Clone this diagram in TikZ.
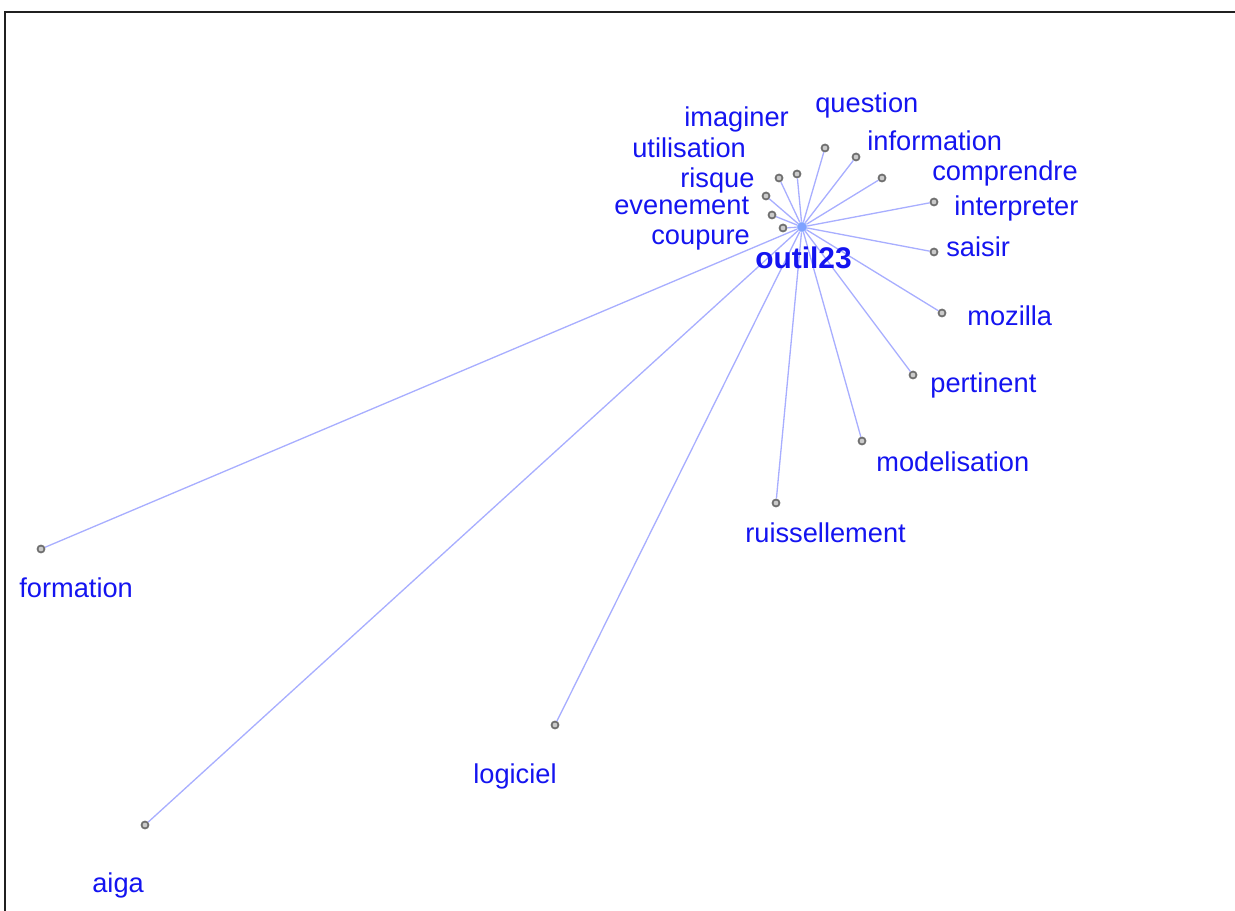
\documentclass[tikz,border=0pt]{standalone}
\usepackage{xcolor}
\usepackage{fontspec}
\setmainfont{Liberation Sans}
\usepackage{tikz}
\definecolor{graphBlue}{HTML}{1414F0}
\definecolor{graphEdge}{HTML}{A8AEFF}
\definecolor{graphHub}{HTML}{7FA2FF}
\definecolor{graphDot}{HTML}{A8A8A8}
\definecolor{graphRim}{HTML}{707070}
\definecolor{graphFrame}{HTML}{202020}
\usetikzlibrary{positioning}

\begin{document}
\begin{tikzpicture}[
  x=0.02cm, y=-0.02cm,
  hub/.style={circle, fill=graphHub, draw=graphHub!70, line width=0.4pt, minimum size=0.2cm, inner sep=0pt},
  leaf/.style={circle, fill=graphDot!60, draw=graphRim, line width=1pt, minimum size=0.14cm, inner sep=0pt},
  link/.style={graphEdge, line width=0.75pt},
  word/.style={anchor=base west, inner sep=0pt, text=graphBlue, font=\fontsize{15.5}{18}\selectfont},
  hubword/.style={anchor=base west, inner sep=0pt, text=graphBlue, font=\fontsize{17}{18}\selectfont\bfseries},
  frame/.style={graphFrame, line width=1.6pt}
]
\useasboundingbox (0,0) rectangle (1235,911);

% Frame
\draw[frame] (5,911) -- (5,12) -- (1235,12);

% Centre
\node[hub] (outil) at (802,227) {};

% Leaves
\node[leaf] (question) at (825,148) {};
\node[leaf] (imaginer) at (797,174) {};
\node[leaf] (information) at (856,157) {};
\node[leaf] (utilisation) at (779,178) {};
\node[leaf] (risque) at (766,196) {};
\node[leaf] (comprendre) at (882,178) {};
\node[leaf] (interpreter) at (934,202) {};
\node[leaf] (evenement) at (772,215) {};
\node[leaf] (coupure) at (783,228) {};
\node[leaf] (saisir) at (934,252) {};
\node[leaf] (mozilla) at (942,313) {};
\node[leaf] (pertinent) at (913,375) {};
\node[leaf] (modelisation) at (862,441) {};
\node[leaf] (ruissellement) at (776,503) {};
\node[leaf] (formation) at (41,549) {};
\node[leaf] (logiciel) at (555,725) {};
\node[leaf] (aiga) at (145,825) {};

% Links
\draw[link] (outil) -- (question);
\draw[link] (outil) -- (imaginer);
\draw[link] (outil) -- (information);
\draw[link] (outil) -- (utilisation);
\draw[link] (outil) -- (risque);
\draw[link] (outil) -- (comprendre);
\draw[link] (outil) -- (interpreter);
\draw[link] (outil) -- (evenement);
\draw[link] (outil) -- (coupure);
\draw[link] (outil) -- (saisir);
\draw[link] (outil) -- (mozilla);
\draw[link] (outil) -- (pertinent);
\draw[link] (outil) -- (modelisation);
\draw[link] (outil) -- (ruissellement);
\draw[link] (outil) -- (formation);
\draw[link] (outil) -- (logiciel);
\draw[link] (outil) -- (aiga);

% Labels
\node[hubword] (outilL) at (755,269) {outil23};
\node[word] (questionL) at (815,113) {question};
\node[word] (imaginerL) at (684,127) {imaginer};
\node[word] (informationL) at (867,151) {information};
\node[word] (utilisationL) at (632,158) {utilisation};
\node[word] (comprendreL) at (932,181) {comprendre};
\node[word] (risqueL) at (680,188) {risque};
\node[word] (evenementL) at (614,215) {evenement};
\node[word] (interpreterL) at (954,216) {interpreter};
\node[word] (coupureL) at (651,245) {coupure};
\node[word] (saisirL) at (946,257) {saisir};
\node[word] (mozillaL) at (967,326) {mozilla};
\node[word] (pertinentL) at (930,393) {pertinent};
\node[word] (modelisationL) at (876,472) {modelisation};
\node[word] (ruissellementL) at (745,543) {ruissellement};
\node[word] (formationL) at (19,598) {formation};
\node[word] (logicielL) at (473,784) {logiciel};
\node[word] (aigaL) at (92,893) {aiga};

\end{tikzpicture}
\end{document}
